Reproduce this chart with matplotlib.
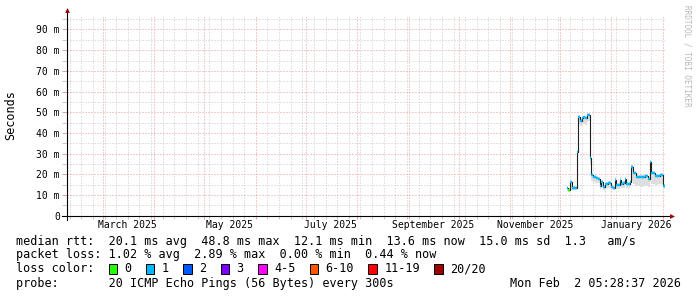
import matplotlib
matplotlib.use("Agg")
import matplotlib.pyplot as plt
import matplotlib.dates as mdates
from matplotlib.patches import Rectangle
import pandas as pd

plt.rcParams['font.family'] = ['DejaVu Sans Mono']

# daily median rtt in ms, starting 2025-12-05
first_day = "2025-12-05"
median = [13.5, 12.4, 16.3, 13.3, 13.5, 13.5, 30.9, 47.8, 46.0, 47.0,
          47.5, 47.0, 48.8, 48.8, 27.8, 19.6, 18.9, 18.5, 18.0, 17.7,
          14.5, 16.4, 13.8, 15.3, 15.3, 15.7, 15.7, 14.0, 13.4, 17.5,
          15.0, 14.8, 17.5, 15.5, 15.6, 17.7, 15.5, 15.5, 16.5, 23.5,
          20.6, 20.6, 18.9, 18.9, 18.8, 18.8, 18.7, 19.2, 19.2, 17.7,
          26.0, 20.6, 20.6, 19.0, 19.0, 19.2, 19.8, 19.8, 14.3]
smoke_lo = [12.0, 11.5, 12.5, 12.0, 12.3, 12.3, 28.0, 44.5, 43.5, 44.0,
            44.5, 44.0, 45.5, 46.0, 25.0, 17.0, 16.5, 16.5, 16.0, 16.0,
            12.8, 13.5, 12.5, 13.0, 13.2, 13.5, 13.5, 12.8, 12.3, 14.0,
            13.0, 13.0, 14.2, 13.3, 13.4, 14.5, 13.5, 13.5, 14.0, 17.0,
            15.5, 15.0, 14.5, 14.3, 14.0, 14.0, 14.2, 14.5, 14.5, 14.0,
            16.5, 15.5, 15.5, 15.0, 15.0, 15.2, 15.5, 15.5, 13.0]
smoke_hi = [14.5, 13.5, 17.0, 14.3, 14.5, 14.5, 31.5, 48.5, 47.0, 48.0,
            48.3, 48.0, 49.5, 49.5, 28.5, 20.5, 19.8, 19.5, 19.0, 18.7,
            15.5, 17.3, 14.8, 16.3, 16.3, 16.7, 16.7, 15.0, 14.4, 18.5,
            16.0, 15.8, 18.5, 16.5, 16.6, 18.7, 16.5, 16.5, 17.5, 24.5,
            21.6, 21.6, 19.9, 19.9, 19.8, 19.8, 19.7, 20.2, 20.2, 18.7,
            27.0, 21.6, 21.6, 20.0, 20.0, 20.2, 20.8, 20.8, 15.3]
# lost pings out of 20, per day
loss = [0.2, 0.0] + [0.2] * 57

loss_labels = ["0", "1", "2", "3", "4-5", "6-10", "11-19", "20/20"]
loss_upper = [0, 1, 2, 3, 5, 10, 19, 20]
loss_colors = ['#26ff00', '#00b8ff', '#0059ff', '#7e00ff',
               '#ff00ff', '#ff5500', '#ff0000', '#a10000']

x_labels = ["March 2025", "May 2025", "July 2025",
            "September 2025", "November 2025", "January 2026"]
x_label_months = ["2025-03", "2025-05", "2025-07", "2025-09", "2025-11", "2026-01"]

y_ticks = [0, 10, 20, 30, 40, 50, 60, 70, 80, 90]
y_ticklabels = ["0"] + ["%d m" % v for v in y_ticks[1:]]

legend_rows = [
    "median rtt:  20.1 ms avg  48.8 ms max  12.1 ms min  13.6 ms now  15.0 ms sd  1.3   am/s",
    "packet loss: 1.02 % avg  2.89 % max  0.00 % min  0.44 % now",
    "loss color:",
    "probe:       20 ICMP Echo Pings (56 Bytes) every 300s",
]
stamp = "Mon Feb  2 05:28:37 2026"

W, H = 697, 297
def fx(x):
    return x / W
def fy(y):
    return 1 - y / H

fig = plt.figure(figsize=(W / 100, H / 100), dpi=100)
ax = fig.add_axes([fx(67), fy(215.75), 598 / W, 200.75 / H])

edges = pd.date_range(first_day, periods=len(median) + 1, freq="D")
en = mdates.date2num(edges)

# smoke
ax.fill_between(en, smoke_lo + [smoke_lo[-1]], smoke_hi + [smoke_hi[-1]],
                step='post', color='#dedede', lw=0, zorder=2)
# median line: black steps, colored by loss
ax.step(en, median + [median[-1]], where='post', color='#202020', lw=0.8, zorder=3)
for i, m in enumerate(median):
    ci = next(k for k, u in enumerate(loss_upper) if loss[i] <= u)
    ax.hlines(m, en[i], en[i + 1], color=loss_colors[ci], lw=1.7, zorder=4)

ax.set_xlim(mdates.date2num(pd.Timestamp("2025-02-07 10:00")),
            mdates.date2num(pd.Timestamp("2026-02-02 05:28")))
ax.set_ylim(0, 97)

majors = mdates.date2num(pd.date_range("2025-03-01", "2026-02-01", freq="MS"))
minors = mdates.date2num(pd.date_range("2025-02-09", "2026-02-01", freq="W-SUN"))
ax.set_xticks(majors)
ax.set_xticks(minors, minor=True)
ax.set_xticklabels([])
ax.set_yticks(y_ticks)
ax.set_yticklabels(y_ticklabels)
ax.set_yticks([5, 15, 25, 35, 45, 55, 65, 75, 85, 95], minor=True)

grid_major = '#ec9a9a'
grid_minor = '#c8c8c8'
ax.grid(which='major', color=grid_major, lw=0.72, ls=(0, (1, 2)), zorder=0)
ax.grid(which='minor', color=grid_minor, lw=0.72, ls=(0, (1, 2)), zorder=0)
ax.tick_params(axis='y', which='major', length=3.6, width=0.7, color=grid_major,
               labelsize=7, pad=1.5)
ax.tick_params(axis='y', which='minor', length=3.6, width=0.7, color=grid_minor)
ax.tick_params(axis='x', which='major', length=2.5, width=0.7, color=grid_major)
ax.tick_params(axis='x', which='minor', length=2.5, width=0.7, color=grid_minor)
for s in ax.spines.values():
    s.set_visible(False)

for lab, mon in zip(x_labels, x_label_months):
    mid = mdates.date2num(pd.Timestamp(mon + "-01") + pd.Timedelta(days=15))
    ax.text(mid, -0.044, lab, transform=ax.get_xaxis_transform(),
            ha='center', va='center', fontsize=7)

# axes with arrows
ax.plot([0, 0], [-0.021, 1.02], transform=ax.transAxes, clip_on=False,
        color='black', lw=0.8, zorder=5)
ax.plot([-0.0084, 1.007], [0, 0], transform=ax.transAxes, clip_on=False,
        color='black', lw=0.8, zorder=5)
ax.plot([0], [1.027], marker='^', ms=3.5, color='#990000', mew=0,
        transform=ax.transAxes, clip_on=False, zorder=6)
ax.plot([1.011], [0], marker='>', ms=3.5, color='#990000', mew=0,
        transform=ax.transAxes, clip_on=False, zorder=6)

fig.text(fx(11), fy(115), "Seconds", rotation=90, ha='center', va='center', fontsize=8.5)
fig.text(fx(687), fy(5), "RRDTOOL / TOBI OETIKER", rotation=270, ha='center',
         va='top', fontsize=5.5, color='#b8b8b8')

row_y = [241, 254.5, 269, 283.5]
for txt, y in zip(legend_rows, row_y):
    fig.text(fx(16), fy(y), txt, ha='left', va='center', fontsize=8.5)
fig.text(fx(681), fy(row_y[3]), stamp, ha='right', va='center', fontsize=8.5)

cw = 7.1
bx = 108.5
for lab, col in zip(loss_labels, loss_colors):
    fig.add_artist(Rectangle((fx(bx), fy(row_y[2] + 4.8)), 8.5 / W, 9.5 / H,
                             transform=fig.transFigure, facecolor=col,
                             edgecolor='black', lw=0.7))
    lx = bx + 15.8
    fig.text(fx(lx), fy(row_y[2]), lab, ha='left', va='center', fontsize=8.5)
    bx = lx + len(lab) * cw + 14.5

fig.savefig("out.png", dpi=100, facecolor='white')
